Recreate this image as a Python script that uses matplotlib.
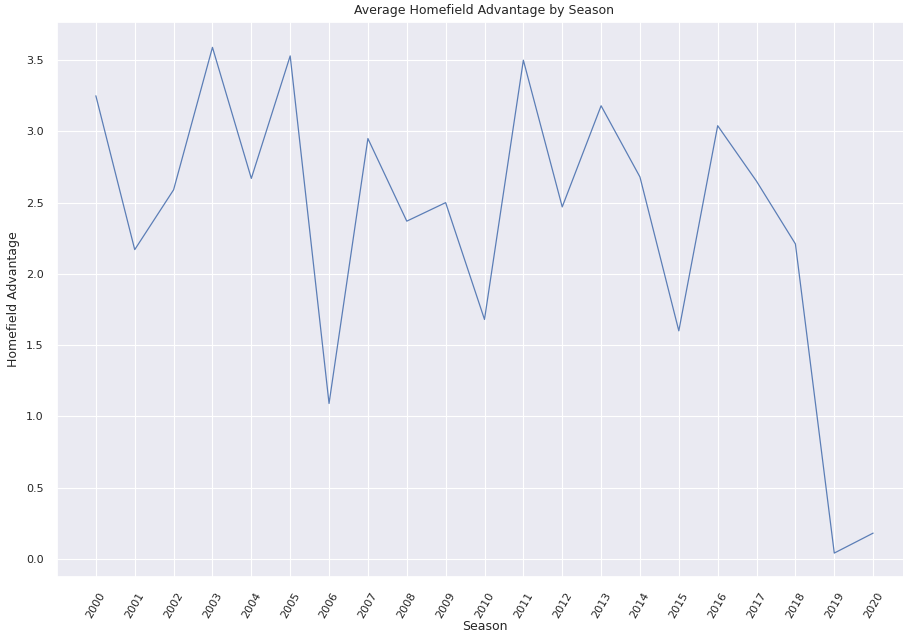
import numpy as np
import matplotlib
matplotlib.use('Agg')
import matplotlib.pyplot as plt
import seaborn as sns

seasons = list(range(2000, 2021))
homefield_adv = [3.25, 2.17, 2.59, 3.59, 2.67, 3.53, 1.09, 2.95, 2.37, 2.50, 1.68,
                 3.50, 2.47, 3.18, 2.68, 1.60, 3.04, 2.65, 2.21, 0.04, 0.18]

sns.set_theme(style="darkgrid", rc={"grid.linewidth": 0.8})
plt.rcParams['font.family'] = ['DejaVu Sans']

fig = plt.figure(figsize=(9.04, 6.33), dpi=100)
ax = fig.add_axes([57 / 904, 56 / 633, (912 - 57) / 904, (577 - 22) / 633])

ax.plot(seasons, homefield_adv, color="#4c72b0", linewidth=0.9, alpha=0.9)
ax.set_xticks(seasons)
ax.set_xticklabels([str(s) for s in seasons], rotation=60, fontsize=8)
ax.tick_params(axis='y', labelsize=8)
ax.set_xlim(1999, 2021)
ax.set_ylim(-0.128, 3.768)

ax.set_title("Average Homefield Advantage by Season", fontsize=9)
ax.set_xlabel("Season", fontsize=9, labelpad=0)
ax.set_ylabel("Homefield Advantage", fontsize=9)

fig.savefig("out.png", dpi=100)
plt.close()
